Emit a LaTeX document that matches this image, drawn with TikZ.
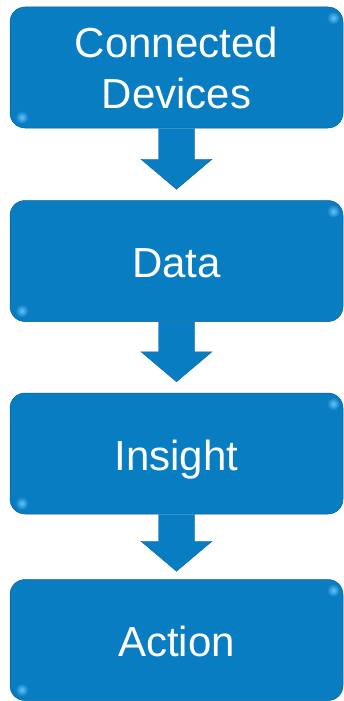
\documentclass[tikz,border=0pt]{standalone}
\usepackage{fontspec}
\setmainfont{Liberation Sans}
\usepackage{tikz}
\usetikzlibrary{positioning}
\usetikzlibrary{calc}
\definecolor{boxblue}{RGB}{8,125,194}
\definecolor{glintblue}{RGB}{100,195,250}
\tikzset{stage/.style = {rectangle, rounded corners=15pt, fill=boxblue, draw=boxblue!75!black,
                         line width=0.5pt, minimum width=333pt, minimum height=121pt, inner sep=0pt,
                         text=white, align=center, font=\fontsize{42}{51}\selectfont}}
\tikzset{oneline/.style = {text height=33pt, text depth=0pt}}
\tikzset{glint/.style = {inner color=glintblue, outer color=boxblue}}
\tikzset{blockarrow/.style = {fill=boxblue, draw=boxblue!80!black, line width=0.4pt, line join=miter}}

\begin{document}
\begin{tikzpicture}[x=1pt,y=-1pt]
    \useasboundingbox (0,0) rectangle (343,701);

    \node[stage] (dev) at (176.5, 67.5) {Connected\\Devices};
    \node[stage, oneline, below=72pt of dev] (data) {Data};
    \node[stage, oneline, below=71pt of data] (ins) {Insight};
    \node[stage, oneline, below=65pt of ins] (act) {Action};

    % glints on the corners
    \shade[glint] ($(dev.north east)+(-10,11)$) circle (6.5);
    \shade[glint] ($(dev.south west)+(12,-11)$) circle (6.5);
    \shade[glint] ($(data.north east)+(-10,11)$) circle (6.5);
    \shade[glint] ($(data.south west)+(12,-11)$) circle (6.5);
    \shade[glint] ($(ins.north east)+(-10,11)$) circle (6.5);
    \shade[glint] ($(ins.south west)+(12,-11)$) circle (6.5);
    \shade[glint] ($(act.north east)+(-10,11)$) circle (6.5);
    \shade[glint] ($(act.south west)+(12,-11)$) circle (6.5);

    % block arrows
    \draw[blockarrow] ($(dev.south)+(-18,0)$) -- ($(data.north)+(-18,-41)$) -- ($(data.north)+(-35.5,-41)$)
        -- ($(data.north)+(0,-11)$) -- ($(data.north)+(35.5,-41)$) -- ($(data.north)+(18,-41)$)
        -- ($(dev.south)+(18,0)$);
    \draw[blockarrow] ($(data.south)+(-18,0)$) -- ($(ins.north)+(-18,-41)$) -- ($(ins.north)+(-35.5,-41)$)
        -- ($(ins.north)+(0,-11)$) -- ($(ins.north)+(35.5,-41)$) -- ($(ins.north)+(18,-41)$)
        -- ($(data.south)+(18,0)$);
    \draw[blockarrow] ($(ins.south)+(-18,0)$) -- ($(act.north)+(-18,-38)$) -- ($(act.north)+(-35.5,-38)$)
        -- ($(act.north)+(0,-8)$) -- ($(act.north)+(35.5,-38)$) -- ($(act.north)+(18,-38)$)
        -- ($(ins.south)+(18,0)$);

\end{tikzpicture}
\end{document}
